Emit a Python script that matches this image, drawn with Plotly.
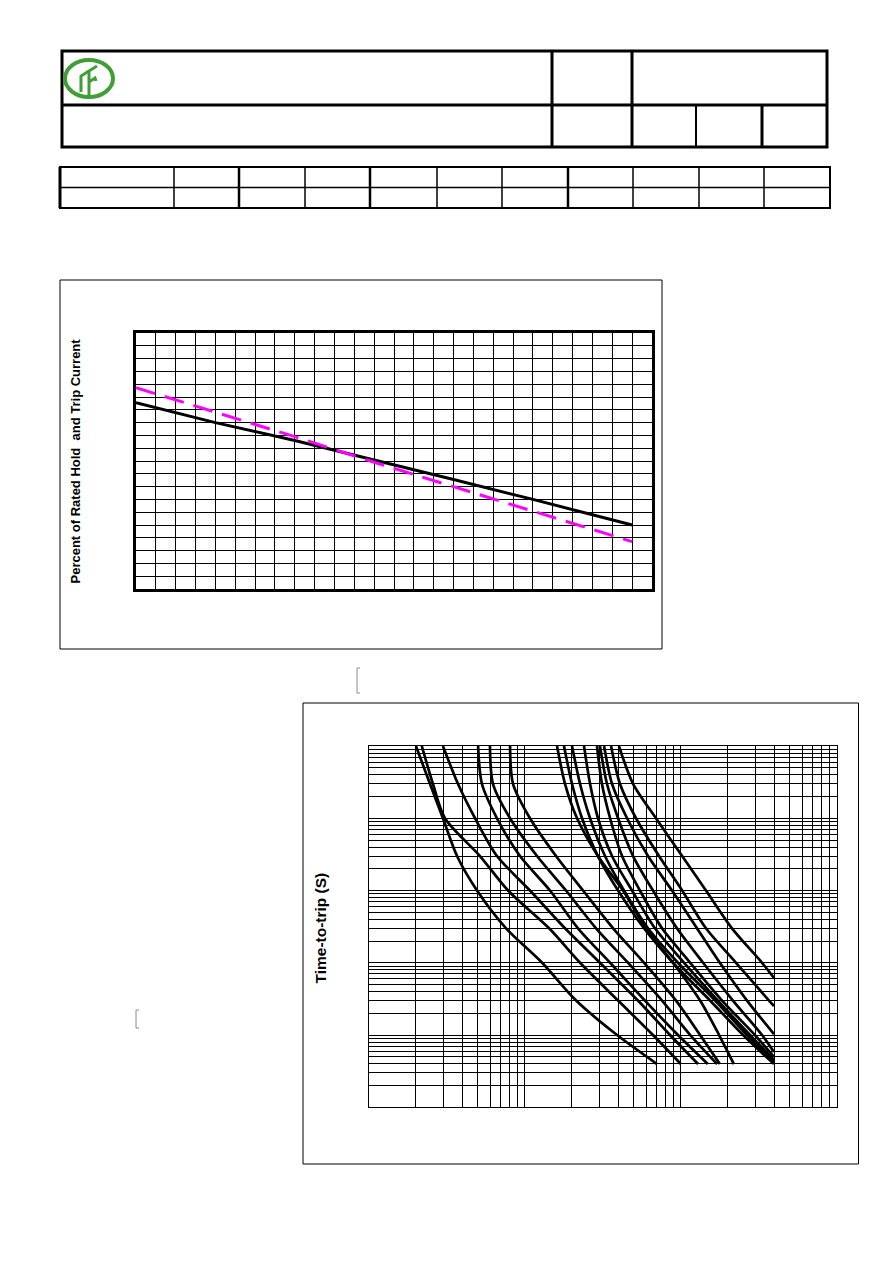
import plotly.graph_objects as go

W, H = 892, 1261

# ---------------- Chart 1: derating curves ----------------
temperature_c = [-40, -20, 0, 20, 40, 60, 85]
hold_pct = [145.5, 130, 116, 101, 85.5, 70, 50]
trip_pct = [157.3, 138, 119, 99, 80, 61, 37]

# ---------------- Chart 2: time-to-trip curves ----------------
trip_times = [100, 30, 10, 3, 1, 0.3, 0.1, 0.03, 0.01]
ttt_currents = [
    [0.200, 0.246, 0.298, 0.367, 0.493, 0.757, 1.29, 2.13, 3.90, 7.04],
    [0.218, 0.257, 0.307, 0.515, 0.780, 1.43, 2.26, 3.96, 6.63, 10.0],
    [0.298, 0.372, 0.479, 0.662, 1.078, 1.808, 3.03, 5.31, 8.53, 12.9],
    [0.501, 0.530, 0.662, 0.930, 1.449, 2.19, 3.52, 5.89, 9.59, 14.9],
    [0.597, 0.624, 0.803, 1.196, 1.835, 2.86, 4.59, 7.58, 11.5, 17.1],
    [0.803, 0.839, 1.078, 1.583, 2.36, 3.68, 5.81, 9.32, 13.3, 17.8],
    [1.607, 1.808, 2.16, 2.94, 4.26, 5.98, 8.91, 13.3, 17.6, 21.9],
    [1.781, 2.005, 2.325, 2.94, 3.96, 5.81, 8.91, 15.4, 25.1, 39.6],
    [2.005, 2.257, 2.617, 3.265, 4.32, 6.16, 9.59, 16.6, 26.6, 39.6],
    [2.394, 2.617, 2.944, 3.62, 4.865, 6.83, 10.5, 17.3, 27.8, 39.6],
    [2.90, 3.12, 3.52, 4.20, 5.47, 7.58, 11.5, 18.4, 29.9, 39.6],
    [3.03, 3.36, 3.96, 4.94, 6.63, 9.45, 13.9, 21.6, 33.2, 39.6],
    [3.22, 3.62, 4.52, 6.16, 8.78, 12.7, 17.8, 26.6, 39.6],
    [3.57, 4.07, 5.16, 7.25, 10.2, 14.5, 22.6, 36.8, 39.6],
    [4.01, 4.94, 6.93, 10.2, 14.5, 21.3, 33.2, 39.6],
]
ttt_end_times = [0.00397, 0.00397, 0.00397, 0.00397, 0.00397, 0.00397, 0.00397,
                 0.00397, 0.00424, 0.00452, 0.00497, 0.00583, 0.0103, 0.0252, 0.0616]

FONT = "Arial, Liberation Sans, sans-serif"


def px(x):
    return x / W


def py(y):
    return 1 - y / H


shapes = []


def line(x0, y0, x1, y1, w=1, color="black"):
    shapes.append(dict(type="line", xref="paper", yref="paper",
                       x0=px(x0), y0=py(y0), x1=px(x1), y1=py(y1),
                       line=dict(color=color, width=w)))


def rect(x0, y0, x1, y1, w=1, color="black"):
    shapes.append(dict(type="rect", xref="paper", yref="paper",
                       x0=px(x0), y0=py(y0), x1=px(x1), y1=py(y1),
                       line=dict(color=color, width=w), fillcolor="rgba(0,0,0,0)"))


# Header block
rect(62, 51, 827, 147, 3)
line(62, 105, 827, 105, 3)
line(552, 51, 552, 147, 3)
line(632, 51, 632, 147, 3)
line(696, 105, 696, 147, 2)
line(762, 105, 762, 147, 3)

# Logo
green = "#3f9e34"
shapes.append(dict(type="circle", xref="paper", yref="paper",
                   x0=px(65), x1=px(113), y0=py(60), y1=py(97),
                   line=dict(color=green, width=4)))


def path(pts, w=3, color=green):
    d = "M " + " L ".join(f"{px(a):.5f},{py(b):.5f}" for a, b in pts)
    shapes.append(dict(type="path", xref="paper", yref="paper", path=d,
                       line=dict(color=color, width=w)))


path([(81, 92), (81, 76), (89, 71)])
path([(89, 97), (89, 71), (97, 66)])
path([(89, 82), (95, 78), (96, 81)])

# Table
rect(60, 167, 830, 208, 2)
line(60, 167, 60, 208, 3)
line(60, 187.5, 830, 187.5, 1.5)
for xv, wv in [(174, 1.5), (239, 2.5), (305, 1.5), (370, 2.5), (437, 1.5), (502, 1.5),
               (568, 2.5), (633, 1.5), (699, 1.5), (764, 1.5)]:
    line(xv, 167, xv, 208, wv)

# Chart frames
rect(60, 280, 662, 649, 1)
rect(303, 703, 858.5, 1164, 1)

# small bracket artifacts
gray = "#8a8a8a"
line(357, 668, 357, 693, 1, gray)
line(357, 668, 360, 668, 1, gray)
line(357, 693, 360, 693, 1, gray)
line(136, 1010, 136, 1028, 1, gray)
line(136, 1010, 139, 1010, 1, gray)
line(136, 1028, 139, 1028, 1, gray)

fig = go.Figure()

fig.add_trace(go.Scatter(x=temperature_c, y=hold_pct, mode="lines",
                         line=dict(color="black", width=3), xaxis="x", yaxis="y",
                         hoverinfo="skip"))
fig.add_trace(go.Scatter(x=temperature_c, y=trip_pct, mode="lines",
                         line=dict(color="#ff00ff", width=3, dash="20px,10px"),
                         xaxis="x", yaxis="y", hoverinfo="skip"))

for cur, tend in zip(ttt_currents, ttt_end_times):
    times = trip_times[:len(cur) - 1] + [tend]
    fig.add_trace(go.Scatter(x=cur, y=times, mode="lines",
                             line=dict(color="black", width=2.7, shape="spline", smoothing=0.8),
                             xaxis="x2", yaxis="y2", hoverinfo="skip"))

ax1 = dict(showgrid=True, gridcolor="black", gridwidth=1, zeroline=False,
           showline=True, mirror=True, linecolor="black", linewidth=3,
           showticklabels=False, ticks="")
fig.update_layout(
    width=W, height=H, margin=dict(l=0, r=0, t=0, b=0),
    paper_bgcolor="white", plot_bgcolor="white", showlegend=False,
    font=dict(family=FONT, color="black"),
    xaxis=dict(ax1, domain=[px(136), px(652)], range=[-40, 90], tick0=-40, dtick=5,
               anchor="y"),
    yaxis=dict(ax1, domain=[py(589), py(333)], range=[0, 200], tick0=0, dtick=10,
               anchor="x"),
    xaxis2=dict(type="log", domain=[px(369), px(836.7)], range=[-1, 2], dtick=1,
                showgrid=True, gridcolor="black", gridwidth=1, zeroline=False,
                showline=True, mirror=True, linecolor="black", linewidth=1,
                showticklabels=False, ticks="", anchor="y2",
                minor=dict(showgrid=True, gridcolor="black", gridwidth=1, dtick="D1", ticks="")),
    yaxis2=dict(type="log", domain=[py(1107.3), py(746)], range=[-3, 2], dtick=1,
                showgrid=True, gridcolor="black", gridwidth=1, zeroline=False,
                showline=True, mirror=True, linecolor="black", linewidth=1,
                showticklabels=False, ticks="", anchor="x2",
                minor=dict(showgrid=True, gridcolor="black", gridwidth=1, dtick="D1", ticks="")),
    shapes=shapes,
    annotations=[
        dict(text="<b>Percent of Rated Hold  and Trip Current</b>", xref="paper", yref="paper",
             x=px(75), y=py(461.5), xanchor="center", yanchor="middle",
             textangle=-90, showarrow=False,
             font=dict(size=13, family=FONT, color="black")),
        dict(text="<b>Time-to-trip (S)</b>", xref="paper", yref="paper",
             x=px(320), y=py(928.5), xanchor="center", yanchor="middle",
             textangle=-90, showarrow=False,
             font=dict(size=15.5, family=FONT, color="black")),
    ],
)

fig.write_html("out.html", config={"displayModeBar": False},
               post_script="document.body.style.margin='0px';")
